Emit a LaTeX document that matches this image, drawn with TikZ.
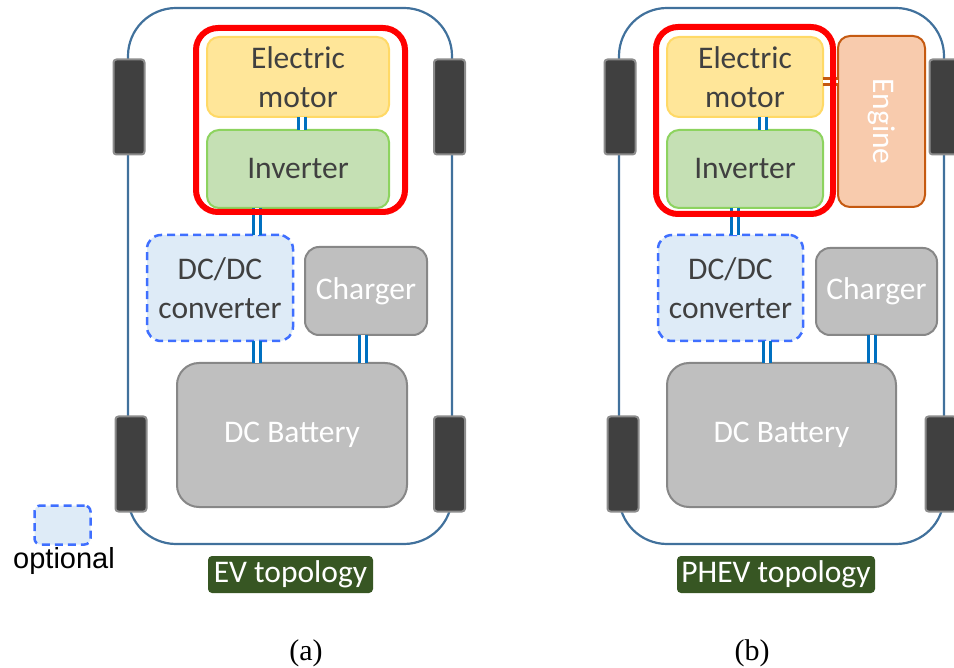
\documentclass[tikz,border=0pt]{standalone}
\usepackage{fontspec}
\setmainfont{Carlito}
\newfontfamily\arialf{Liberation Sans}
\newfontfamily\timesf{Liberation Serif}
\definecolor{bodyc}{HTML}{41719C}
\definecolor{wheelc}{HTML}{404040}
\definecolor{wheeld}{HTML}{8C8C8C}
\definecolor{motorf}{HTML}{FFE699}
\definecolor{motord}{HTML}{FFD966}
\definecolor{invf}{HTML}{C5E0B4}
\definecolor{invd}{HTML}{8DD35F}
\definecolor{dcf}{HTML}{DEEBF7}
\definecolor{dcd}{HTML}{3F6FFF}
\definecolor{greyf}{HTML}{BFBFBF}
\definecolor{greyd}{HTML}{878787}
\definecolor{engf}{HTML}{F8CBAD}
\definecolor{engd}{HTML}{C55A11}
\definecolor{tagc}{HTML}{375623}
\definecolor{linkc}{HTML}{0070C0}
\definecolor{txt}{HTML}{404040}
\begin{document}
\begin{tikzpicture}[x=1pt,y=-1pt,
  every node/.style={inner sep=0pt, outer sep=0pt},
  carbody/.style={draw=bodyc, line width=2.2pt, rounded corners=48pt},
  wheel/.style={fill=wheelc, draw=wheeld, line width=2pt, rounded corners=3pt, minimum width=31pt, minimum height=95pt},
  box/.style={rounded corners=12pt, line width=2pt, align=center, font=\fontsize{31.5}{39}\selectfont, text=txt},
  motorbox/.style={box, fill=motorf, draw=motord},
  invbox/.style={box, fill=invf, draw=invd},
  dcbox/.style={box, rounded corners=14pt, fill=dcf, draw=dcd, line width=2.5pt, dash pattern=on 8pt off 5pt},
  greybox/.style={box, rounded corners=14pt, fill=greyf, draw=greyd, text=white},
  engbox/.style={box, fill=engf, draw=engd, text=white},
  redbox/.style={draw=red, line width=6pt, rounded corners=22pt},
  tagbox/.style={fill=tagc, rounded corners=4pt, text=white, font=\fontsize{31.5}{39}\selectfont},
  link/.style={draw=linkc, line width=3pt, double=white, double distance=3.5pt},
  elink/.style={draw=engd, line width=3pt, double=white, double distance=3pt},
  capt/.style={font=\timesf\fontsize{30}{32}\selectfont}
]
\useasboundingbox (0,0) rectangle (954,668);

% ---------------- panel (a)
\node[carbody, minimum width=324pt, minimum height=536pt] (abody) at (290,276) {};
\node[wheel] (awlt) at (129,107) {};
\node[wheel] (awrt) at (449.5,107) {};
\node[wheel] (awlb) at (131,464) {};
\node[wheel] (awrb) at (449.5,464) {};
\node[motorbox, minimum width=182pt, minimum height=80pt] (amotor) at (298,77) {Electric\\motor};
\node[invbox, minimum width=182pt, minimum height=78pt] (ainv) at (298,169) {Inverter};
\node[dcbox, minimum width=146pt, minimum height=106pt] (adcdc) at (220,288) {DC/DC\\converter};
\node[greybox, minimum width=122pt, minimum height=88pt] (acharger) at (366,291) {Charger};
\node[greybox, rounded corners=22pt, minimum width=230pt, minimum height=144pt] (abatt) at (292,435) {DC Battery};
\draw[link] ([xshift=4pt]amotor.south) -- ([xshift=4pt]ainv.north);
\draw[link] ([xshift=-41pt]ainv.south) -- ([xshift=37pt]adcdc.north);
\draw[link] ([xshift=37pt]adcdc.south) -- ([xshift=-35pt]abatt.north);
\draw[link] ([xshift=-3pt]acharger.south) -- ([xshift=71pt]abatt.north);
\node[redbox, minimum width=209pt, minimum height=184pt] (ared) at (300.5,120) {};
\node[dcbox, rounded corners=6pt, minimum width=56pt, minimum height=39pt] (opt) at (62.5,525) {};
\node[font=\arialf\fontsize{29}{30}\selectfont, anchor=base] (optlbl) at (64,568) {optional};
\node[tagbox, minimum width=165pt, minimum height=37pt] (aev) at (290.5,574.5) {EV topology};
\node[capt] (acap) at (306,653) {(a)};

% ---------------- panel (b)
\node[carbody, minimum width=325pt, minimum height=536pt] (bbody) at (781.5,276) {};
\node[wheel] (bwlt) at (620,107) {};
\node[wheel] (bwrt) at (945,107) {};
\node[wheel] (bwlb) at (623,464) {};
\node[wheel] (bwrb) at (941,464) {};
\node[motorbox, minimum width=156pt, minimum height=80pt] (bmotor) at (745,77) {Electric\\motor};
\node[invbox, minimum width=156pt, minimum height=78pt] (binv) at (745,169) {Inverter};
\node[engbox, rotate=-90, minimum width=171pt, minimum height=87pt] (beng) at (881.5,121.5) {Engine};
\node[dcbox, minimum width=145pt, minimum height=106pt] (bdcdc) at (730.5,288) {DC/DC\\converter};
\node[greybox, minimum width=121pt, minimum height=87pt] (bcharger) at (876.5,291.5) {Charger};
\node[greybox, rounded corners=22pt, minimum width=229pt, minimum height=144pt] (bbatt) at (781.5,435) {DC Battery};
\draw[link] ([xshift=18pt]bmotor.south) -- ([xshift=18pt]binv.north);
\draw[link] ([xshift=-10pt]binv.south) -- ([xshift=4.5pt]bdcdc.north);
\draw[link] ([xshift=36.5pt]bdcdc.south) -- ([xshift=-14.5pt]bbatt.north);
\draw[link] ([xshift=-4.5pt]bcharger.south) -- ([xshift=90.5pt]bbatt.north);
\draw[elink] ([yshift=-5pt]bmotor.east) -- ([yshift=39.5pt]beng.south);
\node[redbox, minimum width=177pt, minimum height=187pt] (bred) at (744.5,120.5) {};
\node[tagbox, minimum width=198pt, minimum height=37pt] (bphev) at (776,574.5) {PHEV topology};
\node[capt] (bcap) at (752,653) {(b)};
\end{tikzpicture}
\end{document}
